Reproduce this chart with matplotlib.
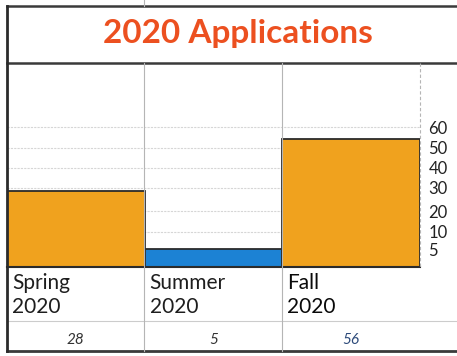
import numpy as np
import matplotlib.pyplot as plt
from matplotlib.lines import Line2D

# data
terms = ['Spring\n2020', 'Summer\n2020', 'Fall\n2020']
applications = [28, 5, 56]
bar_colors = ['#F0A21E', '#1C82D4', '#F0A21E']
tick_values = [5, 10, 20, 30, 40, 50, 60]

# the hand-made axis in the original is not linear, so map values piecewise
anchor_vals = [0, 5, 10, 20, 28, 30, 40, 50, 56, 60, 100]
anchor_pos = [0, 18, 35, 56, 76, 79, 99, 119, 128, 140, 204]


def forward(v):
    return np.interp(v, anchor_vals, anchor_pos)


def inverse(p):
    return np.interp(p, anchor_pos, anchor_vals)


W, H = 457, 356
fig = plt.figure(figsize=(W / 100, H / 100), dpi=100)
font = ['Lato', 'DejaVu Sans']


def fx(px):
    return px / W


def fy(py):
    return 1 - py / H


left, right, top, base = 7, 420, 63, 267
ax = fig.add_axes([fx(left), fy(base), fx(right) - fx(left), fy(top) - fy(base)])

x = np.arange(len(terms))
ax.bar(x, applications, width=1.0, color=bar_colors, edgecolor='#2b2b2b', linewidth=1.3, zorder=2)
ax.set_yscale('function', functions=(forward, inverse))
ax.set_ylim(0, 100)
ax.set_xlim(-0.5, len(terms) - 0.5)

ax.set_yticks(tick_values)
ax.set_yticklabels([str(v) for v in tick_values], family=font, fontsize=12, color='#222222')
ax.yaxis.tick_right()
ax.tick_params(axis='y', length=0, pad=6)
ax.set_xticks([])
ax.grid(axis='y', color='#999999', linestyle=(0, (2, 1)), linewidth=0.8, alpha=0.4, zorder=3)
for s in ax.spines.values():
    s.set_visible(False)
ax.spines['bottom'].set_visible(True)
ax.spines['bottom'].set_color('#2b2b2b')
ax.spines['bottom'].set_linewidth(1.5)
ax.patch.set_alpha(0)

# category labels and counts, in the table rows below the plot
for i, (t, n) in enumerate(zip(terms, applications)):
    col_left = left + (right - left) / len(terms) * i
    col_mid = col_left + (right - left) / len(terms) / 2
    fig.text(fx(col_left + 5), fy(273), t, family=font, fontsize=15,
             color='#0a0a0a' if i == 2 else '#1e1e1e',
             va='top', ha='left', linespacing=1.25)
    fig.text(fx(col_mid), fy(340), str(n), family=font, fontsize=11, style='italic',
             color='#2c4a7a' if i == 2 else '#333333', ha='center', va='center')

fig.text(fx(238), fy(33), '2020 Applications', family=font, fontsize=24, fontweight='bold',
         color='#EC5020', ha='center', va='center')

# table frame
def hline(y, x0, x1, lw, color):
    fig.add_artist(Line2D([fx(x0), fx(x1)], [fy(y), fy(y)], lw=lw, color=color))


def vline(xp, y0, y1, lw, color, ls='-'):
    fig.add_artist(Line2D([fx(xp), fx(xp)], [fy(y0), fy(y1)], lw=lw, color=color, ls=ls))


hline(6, left, W, 1.8, '#3a3a3a')
hline(63, left, W, 1.8, '#3a3a3a')
hline(321, left, W, 0.8, '#cccccc')
hline(351, left, W, 2.0, '#3a3a3a')
vline(left, 6, 351, 2.0, '#2b2b2b')
vline(144, 63, 351, 0.8, '#b5b5b5')
vline(282, 63, 351, 0.8, '#b5b5b5')
vline(right, 63, 267, 0.8, '#b5b5b5', ls=(0, (3, 2)))
vline(144, 0, 6, 0.8, '#b5b5b5')

fig.savefig('out.png', dpi=100)
